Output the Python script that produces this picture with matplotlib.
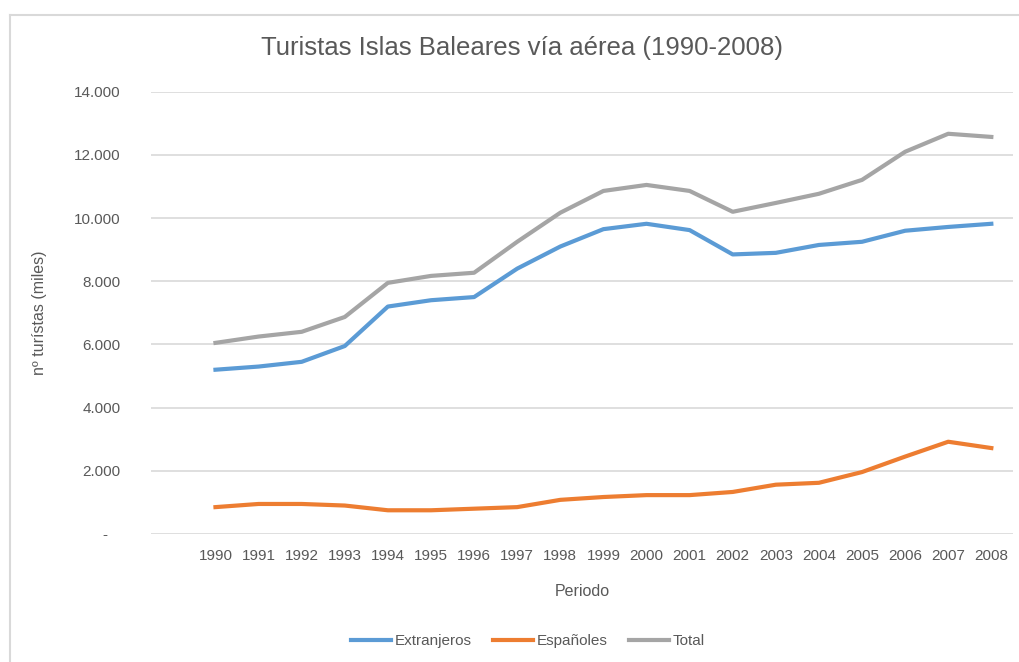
#!/usr/bin/env python3
"""Turistas Islas Baleares via aerea (1990-2008) - line chart, Excel look."""

import matplotlib
matplotlib.use('Agg')
import matplotlib.pyplot as plt
from matplotlib.lines import Line2D
from matplotlib.ticker import FuncFormatter

years = [str(y) for y in range(1990, 2009)]
extranjeros = [5200, 5300, 5450, 5950, 7200, 7400, 7500, 8400, 9100, 9650,
               9820, 9620, 8850, 8900, 9150, 9250, 9600, 9720, 9820]
espanoles = [850, 950, 950, 900, 750, 750, 800, 850, 1080, 1170,
             1230, 1230, 1330, 1560, 1620, 1960, 2450, 2920, 2720]
total = [6050, 6250, 6400, 6870, 7950, 8170, 8270, 9250, 10170, 10860,
         11050, 10860, 10200, 10480, 10770, 11210, 12100, 12670, 12570]
y_ticks = [0, 2000, 4000, 6000, 8000, 10000, 12000, 14000]

TEXT = '#595959'
GRID = '#D9D9D9'
plt.rcParams['font.family'] = ['Liberation Sans', 'DejaVu Sans']


def fmt_miles(v, pos):
    if v == 0:
        return '-   '
    return f'{int(v):,}'.replace(',', '.')


fig = plt.figure(figsize=(10.19, 6.62), dpi=100)
ax = fig.add_axes([0.148, 0.1934, 0.846, 0.668])

x = range(len(years))
ax.plot(x, extranjeros, color='#5B9BD5', lw=3, label='Extranjeros', clip_on=False)
ax.plot(x, espanoles, color='#ED7D31', lw=3, label='Españoles', clip_on=False)
ax.plot(x, total, color='#A5A5A5', lw=3, label='Total', clip_on=False)

ax.set_xlim(-1.5, len(years) - 0.5)
ax.set_ylim(0, 14000)
ax.set_yticks(y_ticks)
ax.yaxis.set_major_formatter(FuncFormatter(fmt_miles))
ax.set_xticks(list(x))
ax.set_xticklabels(years)
ax.grid(axis='y', color=GRID, lw=1.2)
ax.set_axisbelow(True)
for s in ax.spines.values():
    s.set_visible(False)
ax.tick_params(axis='both', length=0, colors=TEXT, labelsize=11)
ax.tick_params(axis='y', pad=22)
ax.tick_params(axis='x', pad=11)

ax.set_xlabel('Periodo', fontsize=11.5, color=TEXT, labelpad=15)
ax.set_ylabel('nº turístas (miles)', fontsize=11.5, color=TEXT, labelpad=19)
fig.text(0.512, 0.927, 'Turistas Islas Baleares vía aérea (1990-2008)',
         ha='center', va='center', fontsize=18.5, color=TEXT)

fig.legend(loc='center', bbox_to_anchor=(0.518, 0.031), ncol=3, frameon=False,
           fontsize=11, labelcolor=TEXT, handlelength=2.6, columnspacing=1.4,
           handletextpad=0.25)

# chart area border (left and top edges visible)
fig.add_artist(Line2D([0.0098, 0.0098], [0, 0.977], color=GRID, lw=1.5))
fig.add_artist(Line2D([0.0098, 1], [0.977, 0.977], color=GRID, lw=1.5))

fig.savefig('out.png', dpi=100, facecolor='white')
print('saved out.png')
